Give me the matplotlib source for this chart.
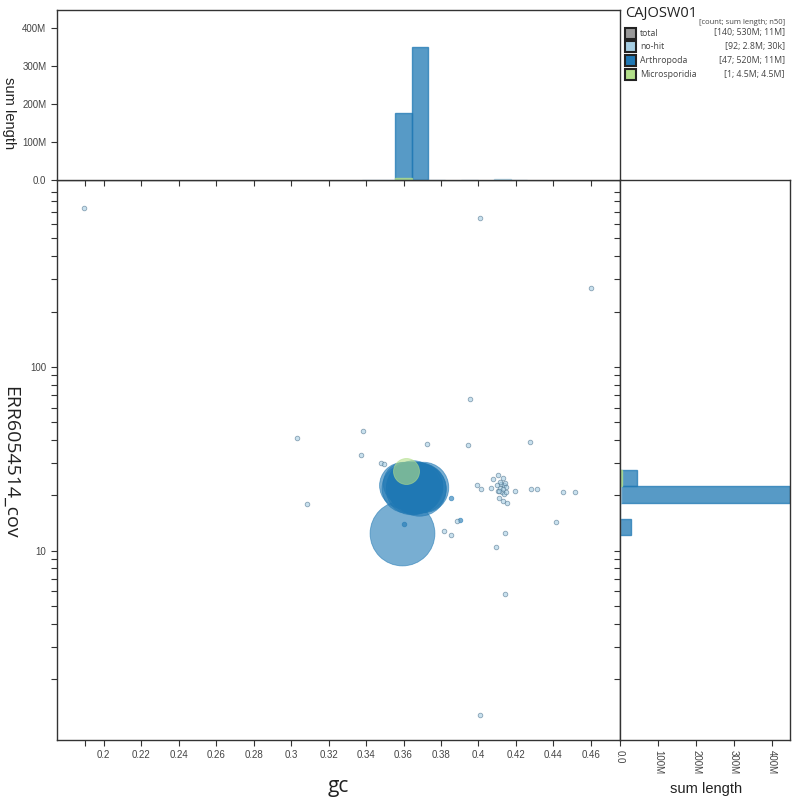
import numpy as np
import matplotlib
matplotlib.use("Agg")
import matplotlib.pyplot as plt
from matplotlib.patches import Rectangle
from matplotlib.ticker import FixedLocator, NullFormatter

# categories / legend
cats = ["no-hit", "Arthropoda", "Microsporidia"]
cat_colors = {"no-hit": "#a6cee3", "Arthropoda": "#1f78b4", "Microsporidia": "#b2df8a"}
legend_names = ["total", "no-hit", "Arthropoda", "Microsporidia"]
legend_colors = ["#999999", "#a6cee3", "#1f78b4", "#b2df8a"]
legend_stats = ["[140; 530M; 11M]", "[92; 2.8M; 30k]", "[47; 520M; 11M]", "[1; 4.5M; 4.5M]"]

# blobs: gc, coverage, length
arth_gc = [0.3591, 0.3591, 0.3600, 0.3612, 0.3625, 0.3633, 0.3640, 0.3648, 0.3655, 0.3662,
           0.3668, 0.3675, 0.3683, 0.3690, 0.3697, 0.3703, 0.3660, 0.3620, 0.3680,
           0.3602, 0.3853, 0.3900]
arth_cov = [12.4, 22.6, 23.2, 21.8, 22.4, 23.6, 21.5, 22.9, 22.0, 21.3,
            23.0, 22.2, 21.6, 22.7, 21.9, 22.3, 24.0, 24.2, 20.8,
            14.0, 19.2, 14.6]
arth_len = [28e6, 14e6, 12e6, 16e6, 13e6, 11e6, 17e6, 15e6, 18e6, 14e6,
            12e6, 16e6, 19e6, 13e6, 15e6, 17e6, 10e6, 9e6, 11e6,
            60e3, 80e3, 90e3]

micro_gc = [0.3613]
micro_cov = [27.2]
micro_len = [4.5e6]

nohit_gc = [0.1893, 0.4008, 0.4601, 0.3031, 0.3084, 0.3383, 0.3372, 0.3479, 0.3495, 0.3955,
            0.3725, 0.3944, 0.4275, 0.3992, 0.4013, 0.4067, 0.4077, 0.4104, 0.4131, 0.4115,
            0.4099, 0.4115, 0.4131, 0.4142, 0.4126, 0.4147, 0.4110, 0.4136, 0.4110, 0.4131,
            0.4153, 0.4147, 0.4195, 0.4281, 0.4313, 0.4452, 0.4516, 0.4414, 0.3885, 0.3816,
            0.3853, 0.4142, 0.4094, 0.4142, 0.4008, 0.4120, 0.4105, 0.4138]
nohit_cov = [731, 646, 268, 41, 18, 45, 33, 30, 29.7, 67,
             38, 37.6, 39, 22.8, 21.7, 22.0, 24.6, 25.9, 24.9, 23.7,
             22.8, 22.0, 21.5, 23.2, 20.7, 22.3, 21.2, 20.2, 19.2, 18.5,
             18.2, 20.7, 21.2, 21.7, 21.7, 20.9, 20.9, 14.3, 14.4, 12.8,
             12.1, 12.5, 10.5, 5.8, 1.28, 23.0, 21.0, 22.6]
nohit_len = [25e3, 30e3, 28e3, 30e3, 20e3, 30e3, 20e3, 120e3, 90e3, 30e3,
             30e3, 35e3, 35e3, 40e3, 40e3, 40e3, 30e3, 30e3, 40e3, 40e3,
             40e3, 40e3, 40e3, 40e3, 40e3, 40e3, 40e3, 40e3, 30e3, 30e3,
             30e3, 30e3, 30e3, 45e3, 30e3, 30e3, 30e3, 30e3, 30e3, 30e3,
             30e3, 30e3, 30e3, 25e3, 20e3, 40e3, 40e3, 40e3]

# histograms
gc_bin_w = 0.0088
gc_hist = {
    "Arthropoda": ([0.3556, 0.3644], [175e6, 350e6]),
    "Microsporidia": ([0.3556], [4.5e6]),
    "no-hit": ([0.3380, 0.3468, 0.3732, 0.3908, 0.4084, 0.4172], [0.2e6, 0.3e6, 0.2e6, 0.3e6, 1.4e6, 0.2e6]),
}
cov_log_edges = [1.082, 1.171, 1.261, 1.350, 1.440]
cov_hist = {
    "Arthropoda": [28e6, 0, 446e6, 46e6],
    "Microsporidia": [0, 0, 0, 4.5e6],
    "no-hit": [0.2e6, 0.2e6, 1.6e6, 0.4e6],
}

xlim = (0.175, 0.4755)
ylim = (0.93, 1040)
len_max = 447e6

tick_font = "Liberation Sans"
label_font = "Open Sans"

fig = plt.figure(figsize=(8, 8), dpi=100)
ax = fig.add_axes([0.071, 0.075, 0.704, 0.70])
ax_top = fig.add_axes([0.071, 0.775, 0.704, 0.2125])
ax_right = fig.add_axes([0.775, 0.075, 0.2125, 0.70])
ax_leg = fig.add_axes([0.775, 0.775, 0.225, 0.225])

# scatter, biggest first
gcs = arth_gc + micro_gc + nohit_gc
covs = arth_cov + micro_cov + nohit_cov
lens = arth_len + micro_len + nohit_len
cols = ["Arthropoda"] * len(arth_gc) + ["Microsporidia"] * len(micro_gc) + ["no-hit"] * len(nohit_gc)
order = np.argsort(lens)[::-1]
k = 350.0 / 4.5e6
for i in order:
    s = max(lens[i] * k, 11)
    c = cat_colors[cols[i]]
    ax.scatter(gcs[i], covs[i], s=s, color=c, alpha=0.6, edgecolors="#4a6f8a" if cols[i] == "no-hit" else c,
               linewidths=0.6, zorder=3)

ax.set_yscale("log")
ax.set_xlim(xlim)
ax.set_ylim(ylim)
xt = [0.2, 0.22, 0.24, 0.26, 0.28, 0.3, 0.32, 0.34, 0.36, 0.38, 0.4, 0.42, 0.44, 0.46]
ax.set_xticks(xt)
ax.set_xticklabels([f"{v:g}" for v in xt])
ax.xaxis.set_minor_locator(FixedLocator([0.19]))
ax.set_yticks([10, 100])
ax.set_yticklabels(["10", "100"])
fig.text(0.4225, 0.017, "gc", fontsize=15, family=label_font, color="#222222", ha="center", va="center")
fig.text(0.013, 0.4225, "ERR6054514_cov", rotation=-90, fontsize=14, family=label_font,
         color="#222222", ha="center", va="center")

for a in (ax, ax_top, ax_right):
    for sp in a.spines.values():
        sp.set_color("#333333")
        sp.set_linewidth(1.0)
    a.tick_params(which="both", direction="out", length=4, width=0.8, color="#333333",
                  labelsize=7, labelcolor="#444444")
    for lab in a.get_xticklabels() + a.get_yticklabels():
        lab.set_family(tick_font)

# top histogram
for cat in ["Arthropoda", "no-hit", "Microsporidia"]:
    lefts, vals = gc_hist[cat]
    ax_top.bar(lefts, vals, width=gc_bin_w, align="edge", color=cat_colors[cat], alpha=0.75,
               edgecolor=cat_colors[cat], linewidth=1.0)
ax_top.set_xlim(xlim)
ax_top.set_ylim(0, len_max)
ax_top.set_xticks(xt)
ax_top.xaxis.set_minor_locator(FixedLocator([0.19]))
ax_top.xaxis.set_major_formatter(NullFormatter())
yt = [0, 100e6, 200e6, 300e6, 400e6]
ytl = ["0.0", "100M", "200M", "300M", "400M"]
ax_top.set_yticks(yt)
ax_top.set_yticklabels(ytl, family=tick_font)
fig.text(0.011, 0.859, "sum length", rotation=-90, fontsize=10.5, family=tick_font,
         color="#222222", ha="center", va="center")

# right histogram
lo = np.power(10.0, cov_log_edges[:-1])
hi = np.power(10.0, cov_log_edges[1:])
for cat in ["Arthropoda", "no-hit", "Microsporidia"]:
    vals = np.array(cov_hist[cat])
    m = vals > 0
    ax_right.barh(lo[m], vals[m], height=(hi - lo)[m], align="edge", color=cat_colors[cat], alpha=0.75,
                  edgecolor=cat_colors[cat], linewidth=1.0)
ax_right.set_yscale("log")
ax_right.set_ylim(ylim)
ax_right.set_xlim(0, len_max)
ax_right.set_yticks([10, 100])
ax_right.yaxis.set_major_formatter(NullFormatter())
ax_right.yaxis.set_minor_formatter(NullFormatter())
ax_right.set_xticks(yt)
ax_right.set_xticklabels(ytl, rotation=-90, family=tick_font)
fig.text(0.882, 0.014, "sum length", fontsize=10.5, family=tick_font,
         color="#222222", ha="center", va="center")

# legend panel
ax_leg.set_xlim(0, 180)
ax_leg.set_ylim(180, 0)
ax_leg.axis("off")
ax_leg.text(5, 13, "CAJOSW01", fontsize=10.5, family=label_font, color="#222222", va="center")
ax_leg.text(165, 23, "[count; sum length; n50]", fontsize=5.5, family=label_font, color="#444444",
            ha="right", va="center")
for i, (name, col, stat) in enumerate(zip(legend_names, legend_colors, legend_stats)):
    yc = 33 + i * 13.8
    ax_leg.add_patch(Rectangle((5, yc - 5.5), 11, 11, facecolor=col, edgecolor="#222222", linewidth=1.5))
    ax_leg.text(20, yc, name, fontsize=6.3, family=label_font, color="#444444", va="center")
    ax_leg.text(165, yc, stat, fontsize=6.3, family=label_font, color="#444444", va="center", ha="right")

fig.savefig("out.png", dpi=100)
